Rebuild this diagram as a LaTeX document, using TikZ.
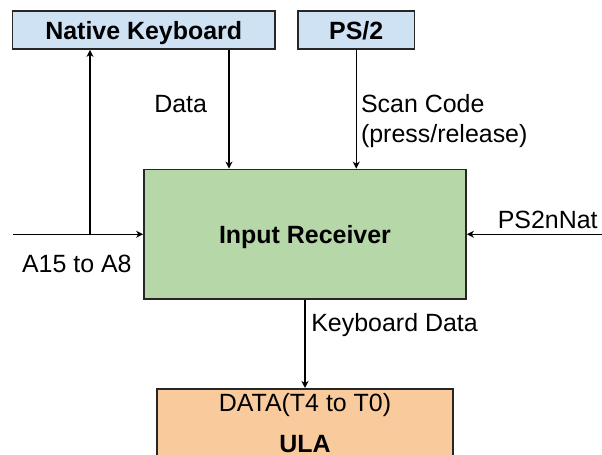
\documentclass[tikz,border=0pt]{standalone}
\usepackage{fontspec}
\setmainfont{Liberation Sans}
\usetikzlibrary{arrows.meta}
\definecolor{kbblue}{HTML}{CFE2F3}
\definecolor{rxgreen}{HTML}{B6D7A8}
\definecolor{ulaorange}{HTML}{F9CB9C}
\begin{document}
\begin{tikzpicture}[x=0.02cm,y=-0.02cm,
 >={Stealth[length=4pt,width=4pt,inset=1.2pt]},
 box/.style={draw=black!85, line width=1pt, inner sep=0pt, text depth=0pt, font=\fontsize{14.2pt}{17pt}\selectfont\bfseries},
 lbl/.style={inner sep=0pt, align=left, font=\fontsize{14.2pt}{17pt}\selectfont},
 wire/.style={line width=0.8pt}]
 \useasboundingbox (0,0) rectangle (602,455);

 % blocks
 \node (nk) at (143.75,30) [box, fill=kbblue, minimum width=5.25cm, minimum height=0.76cm] {Native Keyboard};
 \node (ps) at (356.25,30) [box, fill=kbblue, minimum width=2.33cm, minimum height=0.76cm] {PS/2};
 \node (ir) at (305,234.25) [box, fill=rxgreen, minimum width=6.44cm, minimum height=2.59cm] {Input Receiver};
 \node (ula) at (305,388) [box, fill=ulaorange, anchor=north, minimum width=5.92cm, inner ysep=2.8pt, text depth=,
 align=center, font=\fontsize{14.2pt}{17pt}\selectfont] {DATA(T4 to T0)\\[6.3pt]\textbf{ULA}};

 % free ends
 \coordinate (a15) at (13,234.25);
 \coordinate (tap) at (90,234.25);
 \coordinate (dcol) at (229,0);
 \coordinate (psn) at (602,234.25);

 % connectors
 \draw[wire, ->] (tap) -- (tap |- nk.south);
 \draw[wire, ->] (nk.south -| dcol) -- (ir.north -| dcol);
 \draw[wire, ->] (ps.south) -- (ps.south |- ir.north);
 \draw[wire, ->] (a15) -- (a15 -| ir.west);
 \draw[wire, ->] (psn) -- (psn -| ir.east);
 \draw[wire, ->] (ir.south) -- (ula.north);

 % labels
 \node (ldata) at (154,112.7) [lbl, anchor=base west] {Data};
 \node (lscan) at (360.7,142.5) [lbl, anchor=base west] {Scan Code\\(press/release)};
 \node (laddr) at (21.7,273) [lbl, anchor=base west] {A15 to A8};
 \node (lsel) at (598,228.7) [lbl, anchor=base east] {PS2nNat};
 \node (lkbd) at (311,332) [lbl, anchor=base west] {Keyboard Data};
\end{tikzpicture}
\end{document}
